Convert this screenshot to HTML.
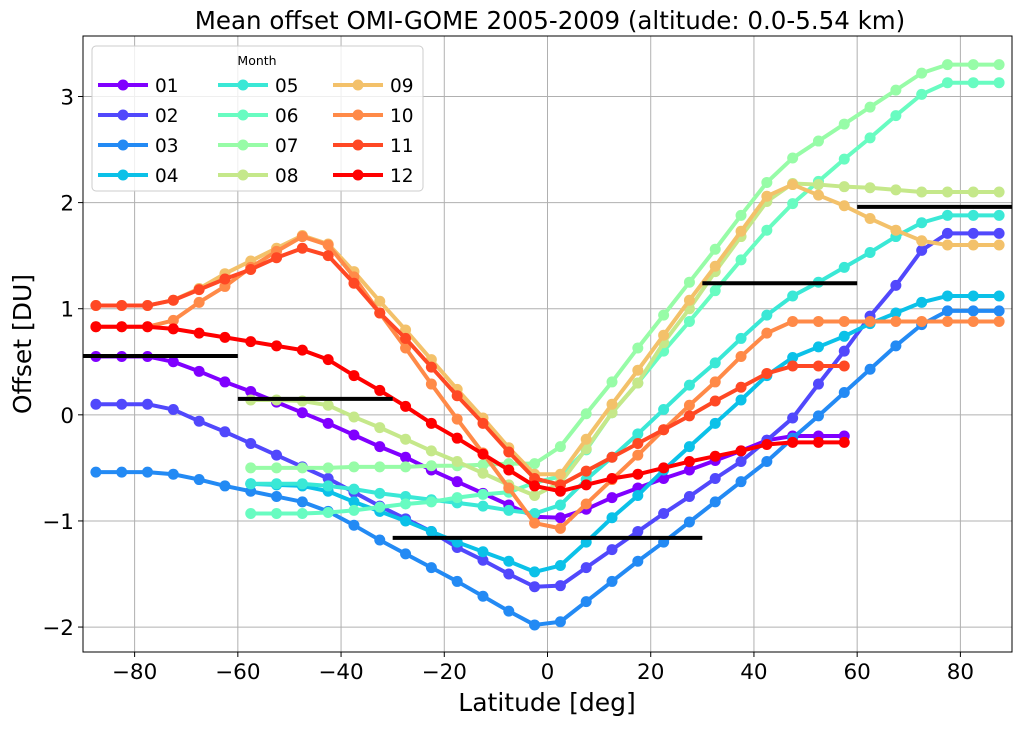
<!DOCTYPE html>
<html><head><meta charset="utf-8"><style>
body{margin:0;background:#fff;font-family:"Liberation Sans",sans-serif}
svg text{font-family:"DejaVu Sans","Liberation Sans",sans-serif}
</style></head><body>
<svg id="chart" width="1024" height="725" xmlns="http://www.w3.org/2000/svg">
<rect width="1024" height="725" fill="#fff"/>
<text x="550" y="29" text-anchor="middle" font-size="24.5">Mean offset OMI-GOME 2005-2009 (altitude: 0.0-5.54 km)</text>
<g id="grid"></g><g id="series"></g><g id="refs"></g><g id="axes"></g><g id="legend"></g>
<text x="547" y="711" text-anchor="middle" font-size="25">Latitude [deg]</text>
<text transform="translate(31,344) rotate(-90)" text-anchor="middle" font-size="25">Offset [DU]</text>
</svg>
<script>
const months=["01","02","03","04","05","06","07","08","09","10","11","12"];
const colors=["#8000ff","#5148fc","#238af4","#0bc1e8","#3ae8d6","#68fcc1","#97fca7","#c5e88a","#f3c16a","#ff8a48","#ff4824","#ff0000"];
const startIdx=[0,0,0,6,6,6,6,6,0,0,0,0];
const s01=[0.55,0.55,0.55,0.50,0.41,0.31,0.22,0.12,0.02,-0.08,-0.19,-0.30,-0.40,-0.52,-0.63,-0.74,-0.85,-0.96,-0.97,-0.89,-0.78,-0.69,-0.60,-0.52,-0.43,-0.34,-0.24,-0.20,-0.20,-0.20];
const s02=[0.10,0.10,0.10,0.05,-0.06,-0.16,-0.27,-0.38,-0.49,-0.60,-0.73,-0.86,-0.98,-1.10,-1.25,-1.37,-1.50,-1.62,-1.61,-1.44,-1.27,-1.10,-0.93,-0.77,-0.60,-0.44,-0.24,-0.03,0.29,0.60,0.93,1.22,1.55,1.71,1.71,1.71];
const s03=[-0.54,-0.54,-0.54,-0.56,-0.61,-0.67,-0.72,-0.77,-0.82,-0.91,-1.04,-1.18,-1.31,-1.44,-1.57,-1.71,-1.85,-1.98,-1.95,-1.76,-1.57,-1.38,-1.20,-1.01,-0.82,-0.63,-0.44,-0.22,-0.01,0.21,0.43,0.65,0.85,0.98,0.98,0.98];
const s04=[-0.65,-0.66,-0.67,-0.72,-0.82,-0.91,-1.00,-1.10,-1.20,-1.29,-1.38,-1.48,-1.42,-1.20,-0.97,-0.76,-0.52,-0.30,-0.08,0.14,0.37,0.54,0.64,0.74,0.86,0.96,1.06,1.12,1.12,1.12];
const s05=[-0.65,-0.65,-0.65,-0.67,-0.70,-0.74,-0.77,-0.80,-0.83,-0.86,-0.90,-0.93,-0.85,-0.61,-0.40,-0.18,0.05,0.28,0.49,0.72,0.94,1.12,1.25,1.39,1.53,1.68,1.81,1.88,1.88,1.88];
const s06=[-0.93,-0.93,-0.93,-0.92,-0.90,-0.87,-0.84,-0.82,-0.78,-0.75,-0.73,-0.64,-0.58,-0.33,0.02,0.30,0.60,0.88,1.17,1.46,1.74,1.99,2.20,2.41,2.61,2.82,3.02,3.13,3.13,3.13];
const s07=[-0.50,-0.50,-0.50,-0.50,-0.49,-0.49,-0.49,-0.48,-0.48,-0.47,-0.46,-0.46,-0.30,0.01,0.31,0.63,0.94,1.25,1.56,1.88,2.19,2.42,2.58,2.74,2.90,3.06,3.22,3.30,3.30,3.30];
const s08=[0.14,0.14,0.13,0.09,-0.02,-0.12,-0.23,-0.34,-0.44,-0.55,-0.66,-0.76,-0.64,-0.32,0.02,0.30,0.68,1.00,1.35,1.68,2.01,2.18,2.17,2.15,2.14,2.12,2.10,2.10,2.10,2.10];
const s09=[1.03,1.03,1.03,1.08,1.19,1.33,1.45,1.57,1.69,1.61,1.35,1.07,0.80,0.52,0.24,-0.03,-0.31,-0.56,-0.56,-0.23,0.10,0.42,0.75,1.08,1.40,1.73,2.06,2.17,2.07,1.97,1.85,1.74,1.64,1.60,1.60,1.60];
const s10=[0.83,0.83,0.83,0.89,1.06,1.21,1.39,1.54,1.68,1.60,1.30,0.96,0.63,0.29,-0.04,-0.36,-0.69,-1.02,-1.07,-0.84,-0.61,-0.38,-0.14,0.09,0.31,0.55,0.77,0.88,0.88,0.88,0.88,0.88,0.88,0.88,0.88,0.88];
const s11=[1.03,1.03,1.03,1.08,1.18,1.28,1.37,1.48,1.57,1.50,1.24,0.96,0.72,0.45,0.18,-0.08,-0.35,-0.60,-0.66,-0.53,-0.40,-0.27,-0.14,-0.01,0.13,0.26,0.39,0.46,0.46,0.46];
const s12=[0.83,0.83,0.83,0.81,0.77,0.73,0.69,0.65,0.61,0.52,0.37,0.23,0.08,-0.08,-0.22,-0.37,-0.52,-0.67,-0.72,-0.66,-0.60,-0.56,-0.50,-0.44,-0.39,-0.34,-0.28,-0.26,-0.26,-0.26];
const seriesData=[s01,s02,s03,s04,s05,s06,s07,s08,s09,s10,s11,s12];
const refStart=[-90,-60,-30,30,60];
const refEnd=[-60,-30,30,60,90];
const refVal=[0.555,0.15,-1.16,1.24,1.96];
const xTicks=[-80,-60,-40,-20,0,20,40,60,80];
const yTicks=[-2,-1,0,1,2,3];

const L=83,R=1012,T=36,B=652,XMIN=-90,XMAX=90,YMIN=-2.235,YMAX=3.57;
const X=v=>L+(v-XMIN)/(XMAX-XMIN)*(R-L);
const Y=v=>B-(v-YMIN)/(YMAX-YMIN)*(B-T);
const NS="http://www.w3.org/2000/svg";
function mk(tag,attrs,parent){const e=document.createElementNS(NS,tag);for(const k in attrs)e.setAttribute(k,attrs[k]);parent.appendChild(e);return e;}
const grid=document.getElementById('grid'),axes=document.getElementById('axes');
xTicks.forEach(t=>{
  const g=mk('line',{x1:X(t),x2:X(t),y1:T,y2:B,stroke:'#b0b0b0','stroke-width':1},grid);
  
  
  mk('line',{x1:X(t),x2:X(t),y1:B,y2:B+5,stroke:'#000'},axes);
  const tx=mk('text',{x:X(t),y:B+27,'text-anchor':'middle','font-size':21.5},axes);
  tx.textContent=(t<0?'\u2212'+(-t):t);
  
  
});
yTicks.forEach(t=>{
  const g=mk('line',{x1:L,x2:R,y1:Y(t),y2:Y(t),stroke:'#b0b0b0','stroke-width':1},grid);
  
  
  mk('line',{x1:L-5,x2:L,y1:Y(t),y2:Y(t),stroke:'#000'},axes);
  const tx=mk('text',{x:L-9,y:Y(t)+8,'text-anchor':'end','font-size':21.5},axes);
  tx.textContent=(t<0?'\u2212'+(-t):t);
  
  
});
const frame=mk('rect',{x:L,y:T,width:R-L,height:B-T,fill:'none',stroke:'#000','stroke-width':1},axes);


const sg=document.getElementById('series');
seriesData.forEach((d,k)=>{
  const g=mk('g',{},sg);
  
  
  const pts=d.map((v,i)=>[X(-87.5+5*(startIdx[k]+i)),Y(v)]);
  mk('polyline',{points:pts.map(p=>p.join(',')).join(' '),fill:'none',stroke:colors[k],'stroke-width':4,'stroke-linejoin':'round'},g);
  pts.forEach(p=>{const c=mk('circle',{cx:p[0],cy:p[1],r:5.5,fill:colors[k]},g);
    
    });
});
const rg=document.getElementById('refs');
refVal.forEach((v,i)=>{
  const l=mk('line',{x1:X(refStart[i]),x2:X(refEnd[i]),y1:Y(v),y2:Y(v),stroke:'#000','stroke-width':4},rg);
  
  
});
const lg=document.getElementById('legend');
const box=mk('rect',{x:92,y:46,width:331,height:145,rx:4,fill:'#fff','fill-opacity':0.8,stroke:'#ccc'},lg);


const lt=mk('text',{x:257,y:65,'text-anchor':'middle','font-size':12.5},lg);
lt.textContent='Month';


const colX=[98,218,333];
months.forEach((m,k)=>{
  const c=Math.floor(k/4),r=k%4;const x=colX[c],y=85+r*30;
  const g=mk('g',{},lg);
  
  
  mk('line',{x1:x,x2:x+50,y1:y,y2:y,stroke:colors[k],'stroke-width':4},g);
  mk('circle',{cx:x+25,cy:y,r:5.5,fill:colors[k]},g);
  const t=mk('text',{x:x+57,y:y+7,'font-size':18.5},g);t.textContent=m;
});
</script>
</body></html>
